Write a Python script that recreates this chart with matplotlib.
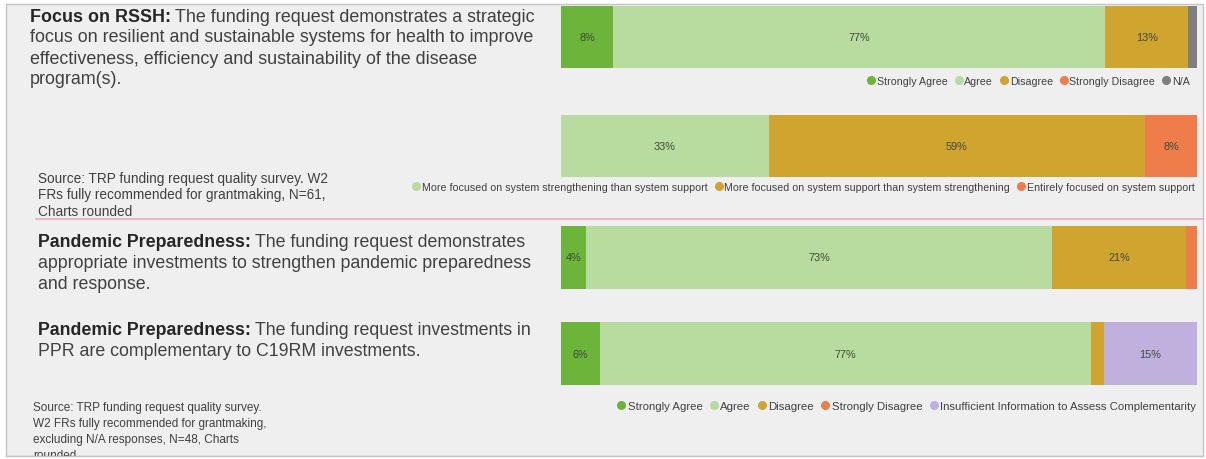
import matplotlib
matplotlib.use("Agg")
import math
import matplotlib.pyplot as plt
from matplotlib.patches import Rectangle
from matplotlib.lines import Line2D
from matplotlib.text import Annotation

plt.rcParams['font.family'] = ['Liberation Sans', 'DejaVu Sans']

# ---------------- data ----------------
agree_cats = ["Strongly Agree", "Agree", "Disagree", "Strongly Disagree", "N/A"]
rssh_vals = [8.2, 77.4, 13.0, 0.0, 1.4]

focus_cats = ["More focused on system strengthening than system support",
              "More focused on system support than system strengthening",
              "Entirely focused on system support"]
focus_vals = [32.7, 59.1, 8.2]

ppr_cats = ["Strongly Agree", "Agree", "Disagree", "Strongly Disagree"]
ppr_vals = [3.9, 73.3, 21.1, 1.7]

c19_cats = ["Strongly Agree", "Agree", "Disagree", "Strongly Disagree",
            "Insufficient Information to Assess Complementarity"]
c19_vals = [6.1, 77.3, 2.0, 0.0, 14.6]

colors = {
    "Strongly Agree": "#6cb43a",
    "Agree": "#b8dba0",
    "Disagree": "#cfa52f",
    "Strongly Disagree": "#ef7d4b",
    "N/A": "#7f7f7f",
    "Insufficient Information to Assess Complementarity": "#bfb0dd",
    "More focused on system strengthening than system support": "#b8dba0",
    "More focused on system support than system strengthening": "#cfa52f",
    "Entirely focused on system support": "#ef7d4b",
}

W, H = 1206, 460
fig = plt.figure(figsize=(W / 100, H / 100), dpi=100)
fig.patch.set_facecolor("white")

def fx(x):
    return x / W

def fy(y):
    return 1 - y / H

# slide background
fig.add_artist(Rectangle((fx(6), fy(457)), fx(1203) - fx(6), fy(5) - fy(457),
                         transform=fig.transFigure, facecolor="#efefef",
                         edgecolor="#c4c4c4", linewidth=1.0, zorder=0))
# pink separator
fig.add_artist(Line2D([fx(36), fx(1203)], [fy(220), fy(220)], color="#f2a6bd",
                      linewidth=1.2, transform=fig.transFigure, zorder=1))

def stacked_bar(cats, vals, x0, y0, x1, y1):
    ax = fig.add_axes([fx(x0), fy(y1), fx(x1) - fx(x0), fy(y0) - fy(y1)])
    left = 0
    for c, v in zip(cats, vals):
        if v > 0:
            ax.barh(0, v, left=left, height=1.0, color=colors[c], linewidth=0)
            if v >= 3:
                ax.text(left + v / 2, 0, f"{int(math.floor(v + 0.5))}%", ha="center",
                        va="center", fontsize=7.8, color="#3f4a38")
        left += v
    ax.set_xlim(0, sum(vals))
    ax.set_ylim(-0.5, 0.5)
    ax.axis("off")
    return ax

def legend(cats, cx, cy, size=7.7):
    handles = [Line2D([], [], marker="o", linestyle="none", markersize=5.5,
                      markerfacecolor=colors[c], markeredgecolor=colors[c]) for c in cats]
    lg = fig.legend(handles, cats, loc="center", bbox_to_anchor=(fx(cx), fy(cy)),
                    ncol=len(cats), frameon=False, fontsize=size,
                    handletextpad=0.1, columnspacing=0.55, handlelength=0.9,
                    borderpad=0, labelcolor="#404040")
    return lg

stacked_bar(agree_cats, rssh_vals, 561, 7, 1197, 69)
legend(agree_cats, 1028, 82)
stacked_bar(focus_cats, focus_vals, 561, 116, 1197, 178)
legend(focus_cats, 803, 188)
stacked_bar(ppr_cats, ppr_vals, 561, 227, 1197, 290)
stacked_bar(c19_cats, c19_vals, 561, 323, 1197, 386)
legend(c19_cats, 906, 407, size=8.2)

body = "#404040"
bold = "#262626"

def title_block(x, ys, bold_part, first_rest, lines, size=12.9):
    t = fig.text(fx(x), fy(ys[0]), bold_part, fontsize=size, fontweight="bold",
                 color=bold, ha="left", va="center")
    fig.add_artist(Annotation(first_rest, xy=(1, 0.5), xycoords=t,
                              xytext=(3, 0), textcoords="offset points",
                              fontsize=size, color=body, ha="left", va="center"))
    for yy, ln in zip(ys[1:], lines):
        fig.text(fx(x), fy(yy), ln, fontsize=size, color=body, ha="left", va="center")

title_block(30, [17, 38, 60, 80], "Focus on RSSH:",
            "The funding request demonstrates a strategic",
            ["focus on resilient and sustainable systems for health to improve",
             "effectiveness, efficiency and sustainability of the disease",
             "program(s)."])

title_block(38, [243, 264, 285], "Pandemic Preparedness:",
            "The funding request demonstrates",
            ["appropriate investments to strengthen pandemic preparedness",
             "and response."], size=12.75)

title_block(38, [331, 352], "Pandemic Preparedness:",
            "The funding request investments in",
            ["PPR are complementary to C19RM investments."], size=12.75)

src1 = ["Source: TRP funding request quality survey. W2",
        "FRs fully recommended for grantmaking, N=61,",
        "Charts rounded"]
for i, ln in enumerate(src1):
    fig.text(fx(38), fy(179 + 16.5 * i), ln, fontsize=9.8, color=body, ha="left", va="center")

src2 = ["Source: TRP funding request quality survey.",
        "W2 FRs fully recommended for grantmaking,",
        "excluding N/A responses, N=48, Charts",
        "rounded"]
for i, ln in enumerate(src2):
    fig.text(fx(33), fy(408 + 16 * i), ln, fontsize=8.5, color=body, ha="left", va="center")

# crop bottom of slide
fig.add_artist(Rectangle((0, 0), 1, fy(457.5), transform=fig.transFigure,
                         facecolor="white", edgecolor="none", zorder=20))
fig.add_artist(Line2D([fx(6), fx(1203)], [fy(457), fy(457)], color="#c4c4c4",
                      linewidth=1.0, transform=fig.transFigure, zorder=21))

fig.savefig("out.png", dpi=100, facecolor="white")
